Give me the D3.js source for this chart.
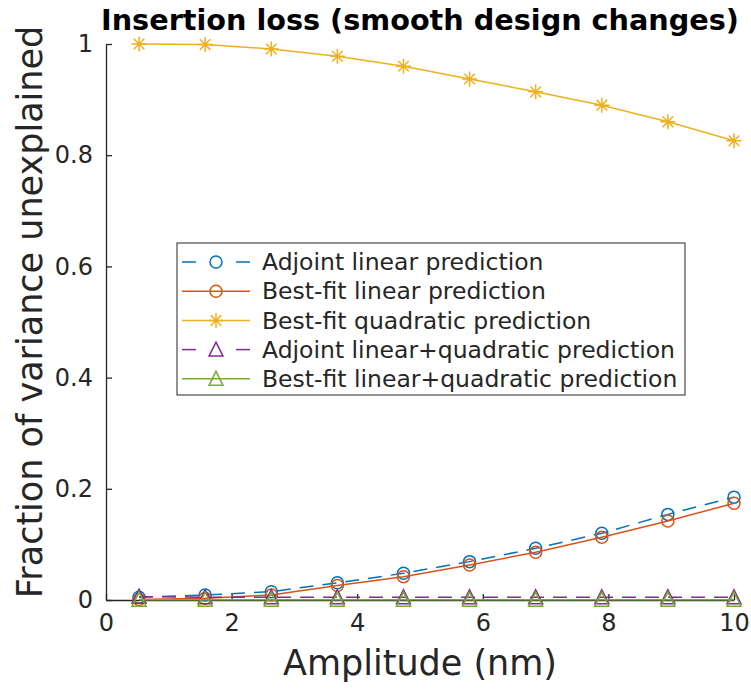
<!DOCTYPE html>
<html><head><meta charset="utf-8">
<script src="https://cdn.jsdelivr.net/npm/d3@7"></script>
<style>body{margin:0;background:#fff}svg{display:block}</style>
</head><body>
<svg id="c" width="751" height="689"></svg>
<script>
const amplitude = [0.526, 1.579, 2.632, 3.684, 4.737, 5.789, 6.842, 7.895, 8.947, 10];
const adjointLinear = [0.005, 0.009, 0.015, 0.031, 0.048, 0.069, 0.093, 0.120, 0.154, 0.185];
const bestFitLinear = [0.001, 0.003, 0.009, 0.026, 0.042, 0.063, 0.086, 0.113, 0.142, 0.174];
const bestFitQuadratic = [1.0, 0.999, 0.991, 0.978, 0.960, 0.937, 0.914, 0.890, 0.860, 0.826];
const adjointLinQuad = [0.006, 0.005, 0.005, 0.005, 0.005, 0.005, 0.005, 0.005, 0.005, 0.005];
const bestFitLinQuad = [0.0005, 0.0005, 0.0005, 0.0005, 0.0005, 0.0005, 0.0005, 0.0005, 0.0005, 0.0005];
const seriesNames = ["Adjoint linear prediction", "Best-fit linear prediction", "Best-fit quadratic prediction",
  "Adjoint linear+quadratic prediction", "Best-fit linear+quadratic prediction"];
const xTicks = [0, 2, 4, 6, 8, 10];
const yTicks = [0, 0.2, 0.4, 0.6, 0.8, 1];

const series = [
  {name: seriesNames[0], values: adjointLinear, color: "#0072BD", dash: "14,9", marker: "circle"},
  {name: seriesNames[1], values: bestFitLinear, color: "#D95319", dash: null, marker: "circle"},
  {name: seriesNames[2], values: bestFitQuadratic, color: "#EDB120", dash: null, marker: "star"},
  {name: seriesNames[3], values: adjointLinQuad, color: "#7E2F8E", dash: "14,9", marker: "tri"},
  {name: seriesNames[4], values: bestFitLinQuad, color: "#77AC30", dash: null, marker: "tri"}
];

const svg = d3.select("#c");
const font = "DejaVu Sans, sans-serif";
const axisColor = "#262626";
const lw = 1.5;
const x = d3.scaleLinear().domain([0, 10]).range([106, 734]);
const y = d3.scaleLinear().domain([0, 1]).range([600, 44]);

// axes
const gx = svg.append("g").attr("transform", `translate(0,${y(0)})`)
  .call(d3.axisBottom(x).tickValues(xTicks).tickFormat(d3.format("d")).tickSizeInner(-6).tickSizeOuter(0).tickPadding(14));
const gy = svg.append("g").attr("transform", `translate(${x(0)},0)`)
  .call(d3.axisLeft(y).tickValues(yTicks).tickFormat(d => d === 0 || d === 1 ? String(d) : d3.format(".1f")(d)).tickSizeInner(-6).tickSizeOuter(0).tickPadding(13));
[gx, gy].forEach(g => {
  g.selectAll("path.domain").attr("stroke", axisColor).attr("stroke-width", 1.3);
  g.selectAll(".tick line").attr("stroke", axisColor).attr("stroke-width", 1.3);
  g.selectAll(".tick text").attr("fill", axisColor).attr("font-family", font).attr("font-size", 24);
});
gx.selectAll(".tick text").attr("dy", "0.71em");

function drawMarker(g, type, cx, cy, color) {
  if (type === "circle") {
    g.append("circle").attr("cx", cx).attr("cy", cy).attr("r", 6)
      .attr("fill", "none").attr("stroke", color).attr("stroke-width", lw);
  } else if (type === "tri") {
    const h = 7.5;
    g.append("path").attr("d", `M${cx},${cy - h}L${cx + 7},${cy + h - 1}L${cx - 7},${cy + h - 1}Z`)
      .attr("fill", "none").attr("stroke", color).attr("stroke-width", lw);
  } else if (type === "star") {
    const r = 7.5, d = 5.3;
    g.append("path").attr("d",
      `M${cx - r},${cy}L${cx + r},${cy}M${cx},${cy - r}L${cx},${cy + r}M${cx - d},${cy - d}L${cx + d},${cy + d}M${cx - d},${cy + d}L${cx + d},${cy - d}`)
      .attr("fill", "none").attr("stroke", color).attr("stroke-width", lw);
  }
}

const line = d3.line().x((d, i) => x(amplitude[i])).y(d => y(d));
series.forEach(s => {
  const g = svg.append("g");
  g.append("path").attr("d", line(s.values)).attr("fill", "none")
    .attr("stroke", s.color).attr("stroke-width", lw)
    .attr("stroke-dasharray", s.dash);
  s.values.forEach((v, i) => drawMarker(g, s.marker, x(amplitude[i]), y(v), s.color));
});

// title and labels
svg.append("text").attr("x", 420).attr("y", 30).attr("text-anchor", "middle")
  .attr("font-family", font).attr("font-weight", "bold").attr("font-size", 28.7).attr("fill", "#000")
  .text("Insertion loss (smooth design changes)");
svg.append("text").attr("x", 420).attr("y", 675).attr("text-anchor", "middle")
  .attr("font-family", font).attr("font-size", 35).attr("fill", axisColor).text("Amplitude (nm)");
svg.append("text").attr("transform", "translate(42,312) rotate(-90)").attr("text-anchor", "middle")
  .attr("font-family", font).attr("font-size", 35).attr("fill", axisColor).text("Fraction of variance unexplained");

// legend
const lg = svg.append("g");
lg.append("rect").attr("x", 177).attr("y", 243).attr("width", 508).attr("height", 152)
  .attr("fill", "#fff").attr("stroke", axisColor).attr("stroke-width", 1);
series.forEach((s, i) => {
  const ly = 262 + i * 29.2;
  if (s.dash) {
    lg.append("line").attr("x1", 182).attr("x2", 196).attr("y1", ly).attr("y2", ly).attr("stroke", s.color).attr("stroke-width", lw);
    lg.append("line").attr("x1", 236).attr("x2", 250).attr("y1", ly).attr("y2", ly).attr("stroke", s.color).attr("stroke-width", lw);
  } else {
    lg.append("line").attr("x1", 182).attr("x2", 250).attr("y1", ly).attr("y2", ly).attr("stroke", s.color).attr("stroke-width", lw);
  }
  drawMarker(lg, s.marker, 216, ly, s.color);
  lg.append("text").attr("x", 262).attr("y", ly).attr("dy", "0.35em")
    .attr("font-family", font).attr("font-size", 23.5).attr("fill", axisColor).text(s.name);
});
</script>
</body></html>
